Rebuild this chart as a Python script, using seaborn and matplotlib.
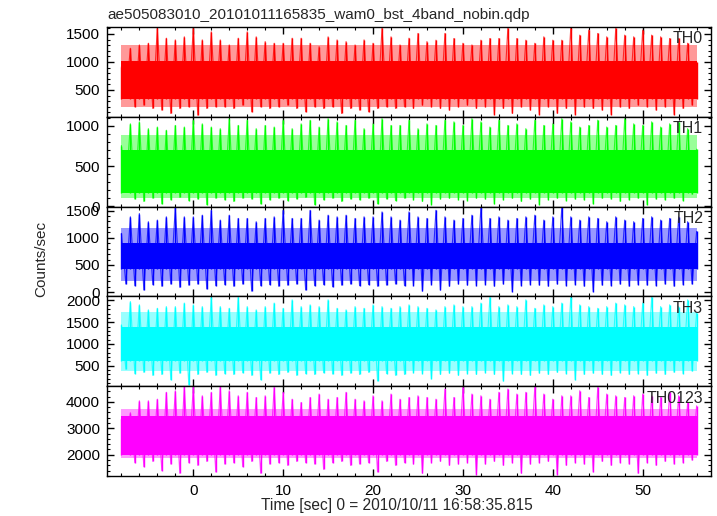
import matplotlib
matplotlib.use("Agg")
import matplotlib.pyplot as plt
from matplotlib.ticker import MultipleLocator
import pandas as pd
import seaborn as sns

title = "ae505083010_20101011165835_wam0_bst_4band_nobin.qdp"
bands = ["TH0", "TH1", "TH2", "TH3", "TH0123"]
colors = ["#ff0000", "#00ff00", "#0000ff", "#00ffff", "#ff00ff"]

# highest count rate seen in each second (-8 s .. 56 s)
seconds = list(range(-8, 57))
th0_peak = [915, 1245, 1305, 1335, 1615, 1425, 1395, 1450, 1615, 1395,
            1540, 1395, 1305, 1425, 1540, 1450, 1365, 1335, 1335, 1425,
            1425, 1335, 1275, 1450, 1395, 1365, 1305, 1395, 1335, 1615,
            1450, 1305, 1425, 1510, 1365, 1390, 1510, 1420, 1335, 1305,
            1390, 1420, 1420, 1615, 1420, 1390, 1335, 1450, 1390, 1390,
            1615, 1480, 1570, 1510, 1450, 1600, 1480, 1450, 1570, 1480,
            1450, 1420, 1420, 1335, 1005]
th1_peak = [755, 1025, 1050, 965, 985, 945, 1005, 985, 1070, 1025,
            985, 965, 1090, 1005, 1070, 965, 1005, 985, 1070, 965,
            1025, 1070, 985, 1090, 1050, 1005, 1070, 965, 1025, 1090,
            1005, 1005, 1070, 965, 1025, 1005, 1070, 1050, 1005, 1090,
            1050, 985, 1070, 1005, 1025, 965, 1070, 1005, 1025, 1090,
            1050, 985, 1005, 1070, 985, 1005, 1090, 1025, 1005, 1050,
            985, 1025, 1050, 965, 710]
th2_peak = [1080, 1385, 1445, 1295, 1325, 1385, 1565, 1385, 1385, 1415,
            1505, 1325, 1415, 1355, 1355, 1295, 1355, 1385, 1505, 1355,
            1355, 1505, 1325, 1415, 1385, 1415, 1355, 1385, 1385, 1475,
            1385, 1325, 1475, 1385, 1355, 1505, 1385, 1325, 1355, 1415,
            1565, 1355, 1385, 1325, 1355, 1385, 1415, 1325, 1385, 1565,
            1385, 1325, 1385, 1355, 1295, 1385, 1325, 1295, 1355, 1385,
            1325, 1355, 1385, 1295, 1115]
th3_peak = [1440, 1975, 1900, 1785, 1820, 1860, 1860, 1940, 1900, 1860,
            2080, 1860, 1820, 2080, 1860, 1785, 1860, 1940, 1820, 2015,
            1860, 1900, 1860, 2015, 1820, 1785, 1860, 1820, 1900, 1860,
            1820, 1860, 1900, 1860, 1820, 1785, 1860, 1900, 1860, 1860,
            1940, 2080, 1860, 1900, 1860, 2015, 1820, 1900, 1860, 1940,
            2080, 1900, 1860, 1820, 1860, 1940, 1900, 1860, 1940, 2080,
            1860, 1900, 1860, 2015, 1705]
th0123_peak = [3340, 3590, 4040, 4040, 4100, 4360, 4420, 4580, 4580, 4230,
               4360, 4580, 4420, 4230, 4360, 4165, 4230, 4550, 4360, 4100,
               3975, 4165, 4295, 4100, 4165, 4360, 4100, 4040, 4230, 4040,
               4295, 4100, 4165, 4230, 4165, 4100, 4485, 4165, 4550, 4295,
               4230, 4100, 4360, 4485, 4295, 4360, 4580, 4295, 4100, 4230,
               4230, 4420, 4165, 4550, 4295, 4230, 4165, 4230, 4295, 4230,
               4165, 4360, 4230, 3975, 3850]

# lowest count rate in between two peaks (-7.5 s .. 55.5 s)
th0_dip = [380, 200, 230, 170, 140, 80, 170, 200,
           50, 170, 200, 200, 170, 230, 110, 200,
           170, 200, 230, 170, 110, 200, 170, 200,
           80, 170, 140, 110, 170, 200, 170, 200,
           170, 230, 200, 170, 140, 200, 230, 170,
           200, 60, 170, 80, 200, 140, 60, 200,
           80, 170, 60, 200, 170, 140, 60, 200,
           170, 230, 200, 140, 200, 60, 170, 230]
th1_dip = [200, 90, 60, 100, 30, 80, 110, 70,
           90, 20, 100, 80, 60, 100, 90, 30,
           80, 100, 70, 90, 110, 20, 80, 100,
           60, 90, 80, 100, 30, 90, 70, 100,
           80, 60, 20, 90, 100, 80, 70, 100,
           90, 30, 80, 100, 60, 90, 20, 80,
           100, 70, 90, 80, 30, 100, 90, 60,
           80, 100, 20, 90, 80, 100, 70, 150]
th2_dip = [150, 120, 40, 140, 110, 150, 90, 130,
           150, 60, 120, 140, 110, 150, 20, 120,
           140, 110, 130, 150, 40, 120, 140, 100,
           130, 150, 120, 140, 110, 130, 150, 120,
           120, 20, 140, 40, 110, 150, 130, 120,
           140, 110, 150, 10, 120, 140, 130, 110,
           150, 120, 140, 110, 10, 130, 120, 150,
           110, 140, 130, 120, 150, 110, 140, 150]
th3_dip = [420, 320, 350, 280, 300, 180, 330, 60,
           300, 350, 280, 320, 300, 340, 280, 180,
           330, 300, 350, 280, 320, 300, 340, 310,
           280, 330, 300, 350, 150, 320, 280, 300,
           340, 320, 200, 300, 330, 280, 320, 300,
           340, 300, 150, 320, 300, 280, 330, 300,
           350, 320, 180, 300, 330, 300, 280, 340,
           300, 320, 280, 330, 300, 350, 320, 380]
th0123_dip = [2100, 1700, 1550, 1750, 1400, 1650, 1300, 1700,
              1600, 1750, 1350, 1650, 1700, 1550, 1750, 1300,
              1650, 1700, 1600, 1750, 1700, 1650, 1450, 1700,
              1750, 1600, 1650, 1700, 1350, 1750, 1600, 1700,
              1650, 1300, 1700, 1750, 1600, 1650, 1700, 1250,
              1650, 1750, 1600, 1700, 1300, 1650, 1700, 1750,
              1250, 1600, 1700, 1650, 1350, 1750, 1600, 1700,
              1650, 1300, 1700, 1600, 1750, 1650, 1700, 1800]

# range where the trace is dense enough to look solid, and where it thins out
core_low = [330, 170, 420, 600, 2000]
core_high = [1020, 700, 900, 1400, 3450]
fringe_low = [190, 100, 210, 390, 1870]
fringe_high = [1300, 880, 1170, 1745, 3720]

peaks = [th0_peak, th1_peak, th2_peak, th3_peak, th0123_peak]
dips = [th0_dip, th1_dip, th2_dip, th3_dip, th0123_dip]
y_limits = [(20, 1625), (-5, 1112), (-78, 1572), (30, 2093), (1196, 4590)]
y_major = [500, 500, 500, 500, 1000]
y_minor = [100, 100, 100, 100, 200]


def trace(peak, dip):
    # alternate peak / dip samples into one light curve
    t, v = [], []
    for k in range(len(peak)):
        t.append(seconds[k])
        v.append(peak[k])
        if k < len(dip):
            t.append(seconds[k] + 0.5)
            v.append(dip[k])
    return pd.DataFrame({"time": t, "rate": v})


sns.set_style("ticks")
plt.rcParams["font.family"] = ["Liberation Sans", "DejaVu Sans"]
plt.rcParams["font.size"] = 11

fig, axes = plt.subplots(5, 1, figsize=(7.17, 5.16), dpi=100, sharex=True)
fig.subplots_adjust(left=107 / 717, right=711 / 717, top=1 - 27 / 516,
                    bottom=1 - 476 / 516, hspace=0)

for i, ax in enumerate(axes):
    c = colors[i]
    span = [seconds[0], seconds[-1]]
    ax.fill_between(span, fringe_low[i], fringe_high[i], color=c, alpha=0.4, lw=0)
    ax.fill_between(span, core_low[i], core_high[i], color=c, lw=0)

    df = trace(peaks[i], dips[i])
    sns.lineplot(data=df, x="time", y="rate", ax=ax, color=c, lw=0.8,
                 alpha=0.75, estimator=None, sort=False)
    up = df.iloc[::2]
    down = df.iloc[1::2]
    ax.vlines(up["time"], core_low[i], up["rate"], color=c, lw=1.0)
    ax.vlines(down["time"], down["rate"], core_high[i], color=c, lw=1.0)

    ax.set_xlim(-9.6, 57.6)
    ax.set_ylim(*y_limits[i])
    ax.yaxis.set_major_locator(MultipleLocator(y_major[i]))
    ax.yaxis.set_minor_locator(MultipleLocator(y_minor[i]))
    ax.xaxis.set_major_locator(MultipleLocator(10))
    ax.xaxis.set_minor_locator(MultipleLocator(2))
    ax.tick_params(which="both", direction="in", top=True, right=True,
                   colors="black", labelsize=11)
    ax.tick_params(which="major", length=5, width=1)
    ax.tick_params(which="minor", length=2.5, width=0.8)
    ax.tick_params(axis="y", pad=5)
    for s in ax.spines.values():
        s.set_linewidth(1.0)
        s.set_color("black")
    ax.set_xlabel("")
    ax.set_ylabel("")
    ax.text(0.987, 0.95, bands[i], transform=ax.transAxes, ha="right",
            va="top", fontsize=11.5)

axes[-1].tick_params(axis="x", pad=6)

fig.text(107 / 717, 1 - 19 / 516, title, ha="left", va="baseline", fontsize=11)
fig.text(397 / 717, 1 - 510 / 516, "Time [sec] 0 = 2010/10/11 16:58:35.815",
         ha="center", va="baseline", fontsize=11.2)
fig.text(41 / 717, 1 - 259 / 516, "Counts/sec", rotation=90, ha="center",
         va="center", fontsize=11)

fig.savefig("out.png", dpi=100)
